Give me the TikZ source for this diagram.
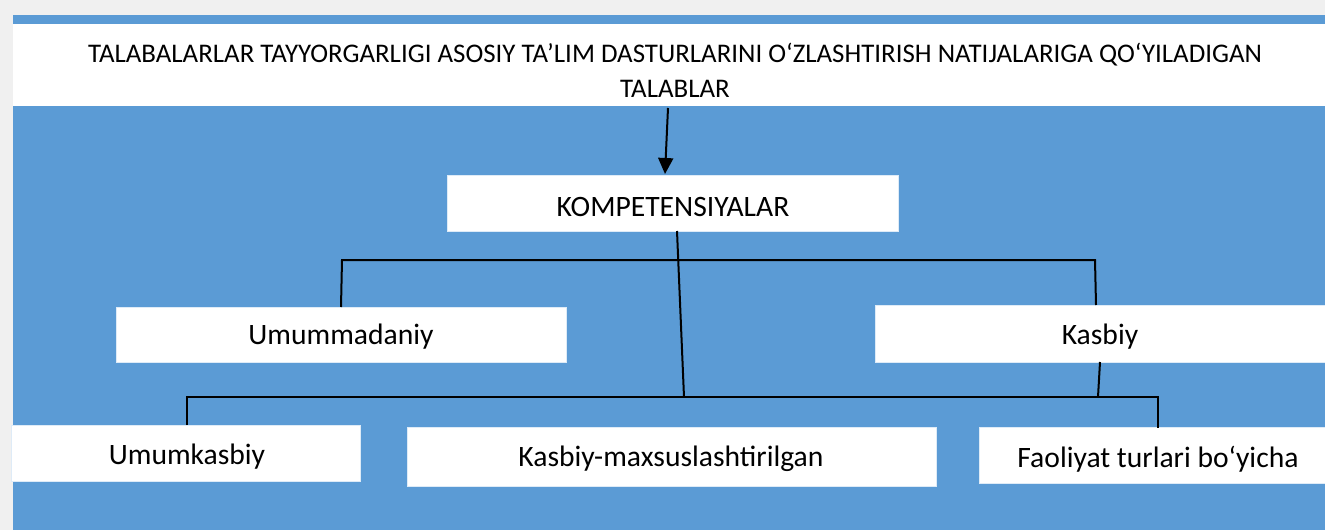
\documentclass[tikz,border=0pt]{standalone}
\usepackage{fontspec}
\setmainfont{Carlito}
\usetikzlibrary{arrows.meta}
\definecolor{bgblue}{HTML}{5B9BD5}
\definecolor{bggray}{HTML}{F0F0F0}
\tikzset{
  box/.style={fill=white, draw=white!80!bgblue, line width=0.6pt},
  lbl/.style={font=\fontsize{29.6}{35}\selectfont, text=black},
  hlbl/.style={font=\fontsize{26.9}{35}\selectfont, text=black},
  conn/.style={draw=black, line width=2pt},
}
\begin{document}
\begin{tikzpicture}[x=1pt,y=-1pt]
\useasboundingbox (0,0) rectangle (1325,530);
\fill[bggray] (0,0) rectangle (1325,530);
\fill[bgblue] (13,15) rectangle (1325,530);
% header
\fill[white] (13,24) rectangle (1325,106);
\node[hlbl, align=center] (head) at (675,70) {TALABALARLAR TAYYORGARLIGI ASOSIY TA’LIM DASTURLARINI O‘ZLASHTIRISH NATIJALARIGA QO‘YILADIGAN\\ TALABLAR};
\coordinate (hbot) at (668,108);
% boxes
\draw[box] (447,175) rectangle (898,231);
\node[lbl] (komp) at (673,207) {KOMPETENSIYALAR};
\draw[box] (116,307) rectangle (566,362);
\node[lbl] (umd) at (341,337) {Umummadaniy};
\draw[box] (875,305) rectangle (1327,362);
\node[lbl] (kas) at (1100,337) {Kasbiy};
\draw[box] (11,425) rectangle (360,481);
\node[lbl] (umk) at (187,457) {Umumkasbiy};
\draw[box] (407,427) rectangle (936,486);
\node[lbl] (kmx) at (671,459) {Kasbiy-maxsuslashtirilgan};
\draw[box] (979,427) rectangle (1327,483);
\node[lbl] (fao) at (1158,459) {Faoliyat turlari bo‘yicha};
% connector coordinates
\coordinate (ktop) at (665,174);
\coordinate (kbot) at (677,231);
\coordinate (h1l) at (342,260);
\coordinate (h1r) at (1095,260);
\coordinate (umdtop) at (341,307);
\coordinate (kastop) at (1096,305);
\coordinate (kasbot) at (1100,362);
\coordinate (h2m) at (684,397);
\coordinate (h2k) at (1098,397);
\coordinate (h2l) at (187,397);
\coordinate (h2r) at (1158,397);
\coordinate (umktop) at (187,425);
\coordinate (faotop) at (1158,428);
% connectors
\draw[conn, -{Triangle[length=16pt,width=15pt]}] (hbot) -- (ktop);
\draw[conn] (umdtop) -- (h1l) -- (h1r) -- (kastop);
\draw[conn] (kbot) -- (h2m);
\draw[conn] (kasbot) -- (h2k);
\draw[conn] (umktop) -- (h2l) -- (h2r) -- (faotop);
\end{tikzpicture}
\end{document}
